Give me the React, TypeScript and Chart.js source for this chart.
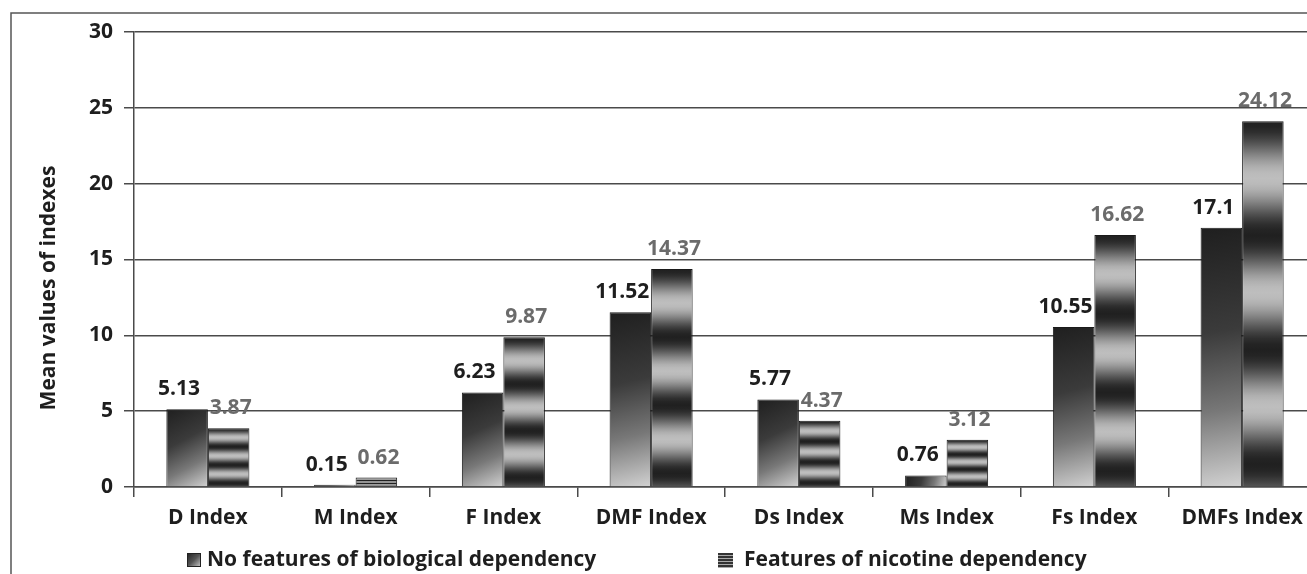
import React, { useEffect, useRef } from 'react';
import { Chart, registerables } from 'chart.js';

Chart.register(...registerables);

const categories = ['D Index', 'M Index', 'F Index', 'DMF Index', 'Ds Index', 'Ms Index', 'Fs Index', 'DMFs Index'];
const seriesLabels = ['No features of biological dependency', 'Features of nicotine dependency'];
const noDependencyValues = [5.13, 0.15, 6.23, 11.52, 5.77, 0.76, 10.55, 17.1];
const nicotineDependencyValues = [3.87, 0.62, 9.87, 14.37, 4.37, 3.12, 16.62, 24.12];
const yAxisTitle = 'Mean values of indexes';
const yMin = 0;
const yMax = 30;
const yStep = 5;

const FONT = '"Open Sans", "Noto Sans", sans-serif';
const CAT_PCT = 0.562;
const GRID = '#4a4a4a';
const W = 1330;
const H = 574;

function barBox(ctx: any) {
  const chart = ctx.chart;
  const xs = chart.scales && chart.scales.x;
  const ys = chart.scales && chart.scales.y;
  if (!xs || !ys || !chart.chartArea) return null;
  const i = ctx.dataIndex;
  const catW = (xs.right - xs.left) / categories.length;
  const center = xs.getPixelForValue(i);
  const bw = (catW * CAT_PCT) / 2;
  const left = ctx.datasetIndex === 0 ? center - bw : center;
  const top = ys.getPixelForValue(ctx.raw);
  const bottom = ys.getPixelForValue(0);
  return { left, right: left + bw, top, bottom };
}

function solidFill(ctx: any) {
  if (ctx.type !== 'data') return '#555';
  const b = barBox(ctx);
  if (!b) return '#555';
  const g = ctx.chart.ctx.createLinearGradient(b.left, b.top, b.right, b.bottom);
  g.addColorStop(0, '#1f1f1f');
  g.addColorStop(0.4, '#3b3b3b');
  g.addColorStop(0.7, '#787878');
  g.addColorStop(1, '#d2d2d2');
  return g;
}

function stripeFill(ctx: any) {
  if (ctx.type !== 'data') return '#666';
  const b = barBox(ctx);
  if (!b) return '#666';
  const h = Math.max(b.bottom - b.top, 1);
  const g = ctx.chart.ctx.createLinearGradient(0, b.top, 0, b.top + h);
  const cycles = 3.2;
  const N = 64;
  for (let k = 0; k <= N; k++) {
    const t = k / N;
    const v = 0.5 - 0.5 * Math.cos(2 * Math.PI * t * cycles);
    const c = Math.round(32 + (190 - 32) * v);
    g.addColorStop(t, `rgb(${c},${c},${c})`);
  }
  return g;
}

const valueLabels = {
  id: 'valueLabels',
  afterDatasetsDraw(chart: any) {
    const c = chart.ctx;
    c.save();
    c.font = `bold 21px ${FONT}`;
    c.textAlign = 'center';
    c.textBaseline = 'middle';
    chart.data.datasets.forEach((ds: any, di: number) => {
      const meta = chart.getDatasetMeta(di);
      meta.data.forEach((el: any, i: number) => {
        c.fillStyle = di === 0 ? '#1e1e1e' : '#6b6b6b';
        c.fillText(String(ds.data[i]), el.x + (di === 0 ? -8 : 2), el.y - 20);
      });
    });
    c.restore();
  },
};

const decorations = {
  id: 'decorations',
  afterDraw(chart: any) {
    const c = chart.ctx;
    c.save();
    c.strokeStyle = '#555';
    c.lineWidth = 1.5;
    c.strokeRect(11, 13, 1500, 800);
    c.translate(49, 288);
    c.rotate(-Math.PI / 2);
    c.font = `bold 21px ${FONT}`;
    c.fillStyle = '#1e1e1e';
    c.textAlign = 'center';
    c.textBaseline = 'middle';
    c.fillText(yAxisTitle, 0, 0);
    c.restore();

    c.save();
    c.font = `bold 21px ${FONT}`;
    c.fillStyle = '#1e1e1e';
    c.textAlign = 'left';
    c.textBaseline = 'middle';
    const ly = 560;
    const g1 = c.createLinearGradient(187, 553, 201, 567);
    g1.addColorStop(0, '#1f1f1f');
    g1.addColorStop(0.5, '#555');
    g1.addColorStop(1, '#d0d0d0');
    c.fillStyle = g1;
    c.fillRect(187, 553, 14, 14);
    c.strokeStyle = '#222';
    c.lineWidth = 1;
    c.strokeRect(187.5, 553.5, 13, 13);
    c.fillStyle = '#1e1e1e';
    c.fillText(seriesLabels[0], 207, ly);
    for (let k = 0; k < 5; k++) {
      c.fillStyle = '#333';
      c.fillRect(718, 553 + k * 3, 15, 2);
      c.fillStyle = '#aaa';
      c.fillRect(718, 555 + k * 3, 15, 1);
    }
    c.fillStyle = '#1e1e1e';
    c.fillText(seriesLabels[1], 744, ly);
    c.restore();
  },
};

export default function App() {
  const ref = useRef<HTMLCanvasElement | null>(null);

  useEffect(() => {
    if (!ref.current) return;
    const chart = new Chart(ref.current, {
      type: 'bar',
      data: {
        labels: categories,
        datasets: [
          {
            label: seriesLabels[0],
            data: noDependencyValues,
            backgroundColor: solidFill as any,
            borderColor: '#1a1a1a',
            borderWidth: 1,
            borderSkipped: 'bottom',
          },
          {
            label: seriesLabels[1],
            data: nicotineDependencyValues,
            backgroundColor: stripeFill as any,
            borderColor: '#1a1a1a',
            borderWidth: 1,
            borderSkipped: 'bottom',
          },
        ],
      },
      options: {
        responsive: false,
        animation: false,
        devicePixelRatio: 1,
        layout: { padding: { left: 0, top: 32, right: 14, bottom: 47 } },
        datasets: { bar: { categoryPercentage: CAT_PCT, barPercentage: 1 } },
        plugins: {
          legend: { display: false },
          tooltip: { enabled: false },
          title: { display: false },
        },
        scales: {
          x: {
            type: 'category',
            afterFit: (s: any) => {
              s.height = 40;
            },
            grid: {
              offset: true,
              drawOnChartArea: false,
              drawTicks: true,
              tickLength: 10,
              color: GRID,
              lineWidth: 1.5,
            },
            border: { display: true, color: GRID, width: 1.5 },
            ticks: {
              color: '#1e1e1e',
              padding: 8,
              maxRotation: 0,
              autoSkip: false,
              font: { family: FONT, size: 21, weight: 'bold' },
            },
          },
          y: {
            min: yMin,
            max: yMax,
            afterFit: (s: any) => {
              s.width = 134;
            },
            grid: {
              color: GRID,
              lineWidth: 1.5,
              tickLength: 10,
              drawTicks: true,
            },
            border: { display: true, color: GRID, width: 1.5 },
            ticks: {
              stepSize: yStep,
              color: '#1e1e1e',
              padding: 11,
              font: { family: FONT, size: 21, weight: 'bold' },
            },
          },
        },
      },
      plugins: [valueLabels, decorations],
    });
    return () => chart.destroy();
  }, []);

  return (
    <div
      style={{
        position: 'fixed',
        left: 0,
        top: 0,
        width: 1307,
        height: H,
        overflow: 'hidden',
        background: '#fff',
      }}
    >
      <canvas ref={ref} width={W} height={H} style={{ display: 'block', width: W, height: H }} />
    </div>
  );
}
